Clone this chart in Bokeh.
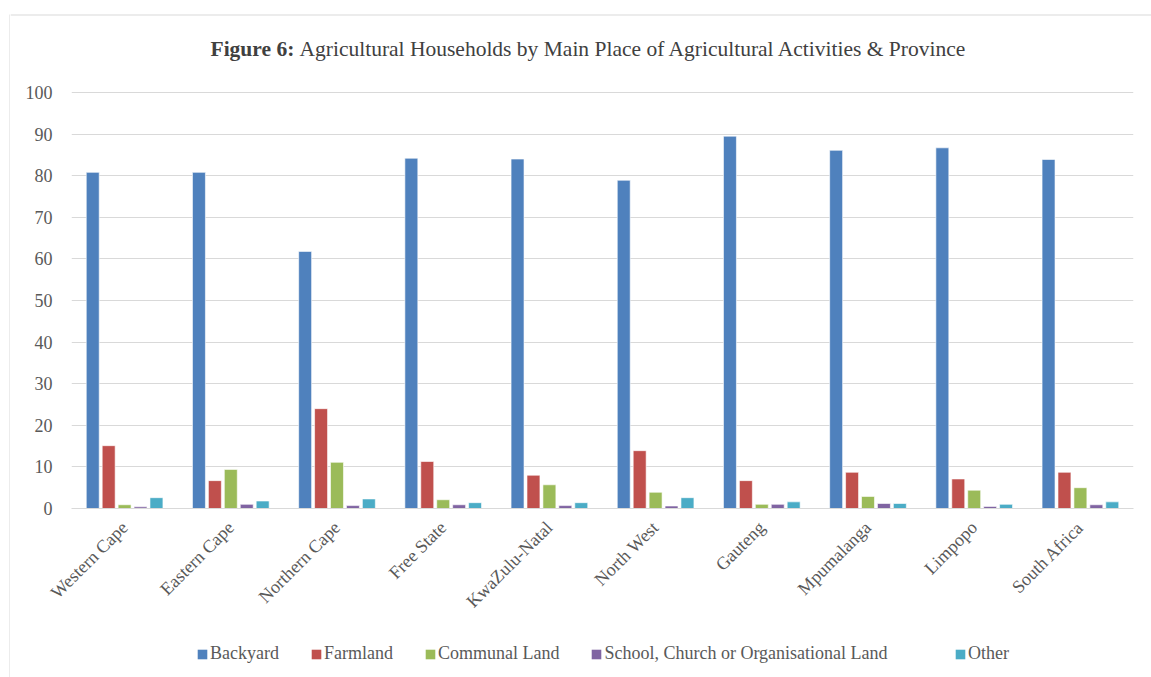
from math import pi

from bokeh.embed import file_html
from bokeh.layouts import column, row
from bokeh.models import (ColumnDataSource, FactorRange, Label, Legend,
                          LegendItem, Range1d, SingleIntervalTicker)
from bokeh.plotting import figure
from bokeh.resources import INLINE
from bokeh.transform import dodge

# Share of agricultural households (%) by main place of agricultural activity
provinces = ["Western Cape", "Eastern Cape", "Northern Cape", "Free State",
             "KwaZulu-Natal", "North West", "Gauteng", "Mpumalanga",
             "Limpopo", "South Africa"]
backyard = [80.8, 80.8, 61.8, 84.2, 84.0, 78.9, 89.5, 86.1, 86.7, 83.9]
farmland = [15.1, 6.7, 24.0, 11.3, 8.0, 13.9, 6.7, 8.7, 7.1, 8.7]
communal = [0.9, 9.4, 11.1, 2.1, 5.7, 3.9, 1.0, 2.9, 4.4, 5.0]
school = [0.4, 1.0, 0.7, 0.9, 0.7, 0.6, 1.0, 1.2, 0.5, 0.9]
other = [2.6, 1.8, 2.3, 1.4, 1.4, 2.6, 1.6, 1.2, 1.0, 1.6]

series_names = ["Backyard", "Farmland", "Communal Land",
                "School, Church or Organisational Land", "Other"]
series_keys = ["backyard", "farmland", "communal", "school", "other"]
series_colors = ["#4F81BD", "#C0504D", "#9BBB59", "#8064A2", "#4BACC6"]

TITLE_BOLD = "Figure 6:"
TITLE_TEXT = "Agricultural Households by Main Place of Agricultural Activities & Province"

source = ColumnDataSource(dict(province=provinces, backyard=backyard,
                               farmland=farmland, communal=communal,
                               school=school, other=other))

FONT = "Liberation Serif"
TEXT = "#595959"
GRID = "#D9D9D9"
BORDER = "#D9D9D9"


def blank(width, height, x_range, y_range):
    """A figure whose frame fills the whole canvas, used for decorations."""
    f = figure(width=width, height=height, x_range=x_range, y_range=y_range,
               output_backend="svg", toolbar_location=None,
               x_axis_location=None, y_axis_location=None,
               min_border=0, min_border_left=0, min_border_right=0,
               min_border_top=0, min_border_bottom=0)
    f.frame_align = False
    f.grid.visible = False
    f.outline_line_color = None
    f.background_fill_color = "white"
    f.border_fill_color = "white"
    return f


# Left edge of the chart-area border
strip = blank(10, 677, Range1d(0, 10), Range1d(677, 0))
strip.segment(x0=[9.5], y0=[14], x1=[9.5], y1=[677], line_color=BORDER,
              line_width=1)

# Title band with the top edge of the chart-area border
head = blank(1141, 80, Range1d(10, 1151), Range1d(80, 0))
head.segment(x0=[10], y0=[14.5], x1=[1151], y1=[14.5], line_color=BORDER,
             line_width=1)
head.add_layout(Label(x=210, y=48, text=TITLE_BOLD, text_font=FONT,
                      text_font_style="bold", text_font_size="21.5px",
                      text_color="#404040", text_align="left",
                      text_baseline="middle"))
head.add_layout(Label(x=299, y=48, text=TITLE_TEXT, text_font=FONT,
                      text_font_size="21.5px", text_color="#404040",
                      text_align="left", text_baseline="middle"))

# Main clustered bar chart
p = figure(x_range=FactorRange(*provinces, range_padding=0),
           y_range=Range1d(0, 100.48),
           width=1141, height=550,
           output_backend="svg", toolbar_location=None,
           min_border_left=61, min_border_right=18,
           min_border_top=10, min_border_bottom=122)
p.frame_align = False
p.outline_line_color = None
p.background_fill_color = "white"
p.border_fill_color = "white"

offsets = [-0.30, -0.15, 0.0, 0.15, 0.30]
for key, color, off in zip(series_keys, series_colors, offsets):
    p.vbar(x=dodge("province", off, range=p.x_range), top=key, width=0.122,
           source=source, fill_color=color, line_color="white",
           line_alpha=0.6, line_width=1)

p.yaxis.ticker = SingleIntervalTicker(interval=10)
p.yaxis.axis_line_color = None
p.yaxis.major_tick_line_color = None
p.yaxis.minor_tick_line_color = None
p.yaxis.major_label_text_font = FONT
p.yaxis.major_label_text_font_size = "18px"
p.yaxis.major_label_text_color = TEXT
p.yaxis.major_label_standoff = 13

p.xaxis.axis_line_color = GRID
p.xaxis.axis_line_width = 1
p.xaxis.major_tick_line_color = None
p.xaxis.minor_tick_line_color = None
p.xaxis.major_label_orientation = pi / 4
p.xaxis.major_label_text_font = FONT
p.xaxis.major_label_text_font_size = "18px"
p.xaxis.major_label_text_color = TEXT
p.xaxis.major_label_standoff = 10

p.xgrid.grid_line_color = None
p.ygrid.grid_line_color = GRID
p.ygrid.grid_line_width = 1

# Legend band: swatches take their colours from zero-height bars placed
# outside the visible range of this band
foot = blank(1141, 47, Range1d(0, 1), Range1d(0, 1))
items = []
for name, color in zip(series_names, series_colors):
    r = foot.vbar(x=[-5], top=[0], bottom=[0], width=0.1, fill_color=color,
                  line_color=None)
    items.append(LegendItem(label=name, renderers=[r]))

legend_style = dict(orientation="horizontal", label_text_font=FONT,
                    label_text_font_size="18px", label_text_color=TEXT,
                    glyph_width=12, glyph_height=12, label_standoff=2,
                    spacing=31, border_line_color=None,
                    background_fill_alpha=0, margin=0, padding=0)
foot.add_layout(Legend(items=items[:4], location=(186, 13), **legend_style))
foot.add_layout(Legend(items=items[4:], location=(944, 13), **legend_style))

layout = row(strip, column(head, p, foot, spacing=0), spacing=0)

open("out.html", "w").write(file_html(layout, INLINE))
